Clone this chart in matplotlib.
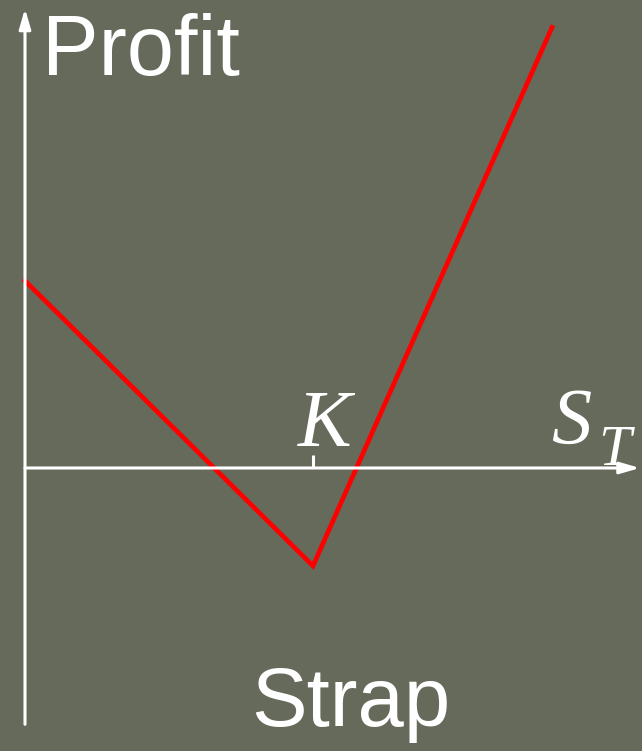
import matplotlib
matplotlib.use("Agg")
import matplotlib.pyplot as plt

# strap payoff (S_T, profit), arbitrary units, K = 100
s_t = [0, 100, 183]
profit = [65, -34, 153]
strike = 100

BG = "#656a5b"
PX = 2.88  # pixels per unit

fig = plt.figure(figsize=(6.42, 7.51), dpi=100, facecolor=BG)
ax = fig.add_axes([0, 0, 1, 1])
ax.set_facecolor(BG)
ax.set_xlim(-25 / PX, (642 - 25) / PX)
ax.set_ylim(-(751 - 468) / PX, 468 / PX)
ax.axis("off")

arrow = dict(arrowstyle="-|>,head_length=1.2,head_width=0.35", color="white",
             lw=2.2, shrinkA=0, shrinkB=0)
ax.annotate("", xy=(0, 159.5), xytext=(0, -89), arrowprops=arrow)
ax.annotate("", xy=(213.5, 0), xytext=(0, 0), arrowprops=arrow)
ax.plot([strike, strike], [0, 4.5], color="white", lw=2.2, solid_capstyle="butt")

ax.plot(s_t, profit, color="#ff0000", lw=3.4, solid_joinstyle="miter")

ax.text(6, 144, "Profit", color="white", fontsize=61, family="Liberation Sans",
        va="center", ha="left")
ax.text(113, -82, "Strap", color="white", fontsize=60, family="Liberation Sans",
        va="center", ha="center")
ax.text(104, 14.5, "K", color="white", fontsize=58, family="Liberation Serif",
        style="italic", va="center", ha="center")
ax.text(182.5, 15, "S", color="white", fontsize=58, family="Liberation Serif",
        style="italic", va="center", ha="left")
ax.text(199, 6, "T", color="white", fontsize=42, family="Liberation Serif",
        style="italic", va="center", ha="left")

fig.savefig("out.png", dpi=100, facecolor=BG)
